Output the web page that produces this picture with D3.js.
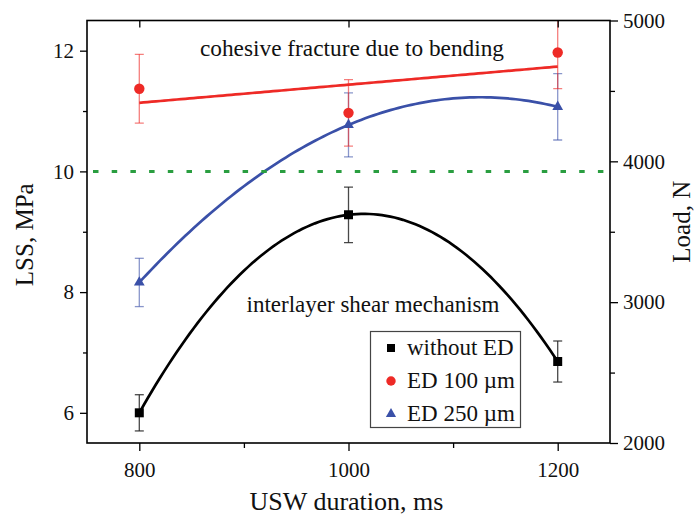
<!DOCTYPE html>
<html><head><meta charset="utf-8">
<script src="https://cdn.jsdelivr.net/npm/d3@7"></script>
<style>
body{margin:0;background:#fff;}
svg{display:block;}
</style></head>
<body><svg id="c" width="699" height="525"></svg>
<script>
// ---- data ----
const durations = [800, 1000, 1200];
const noED = [6.0, 9.28, 6.85];
const noEDErr = [0.30, 0.46, 0.34];
const ed100 = [11.37, 10.97, 11.97];
const ed100Err = [0.57, 0.55, 0.60];
const ed250 = [8.16, 10.77, 11.07];
const ed250Err = [0.40, 0.53, 0.55];
const lssTicks = [6, 8, 10, 12];
const lssMinor = [7, 9, 11];
const loadTicks = [2000, 3000, 4000, 5000];
const loadMinor = [2500, 3500, 4500];
const xTicks = [800, 1000, 1200];
const xMinor = [900, 1100];
const refLevel = 10;
const legendLabels = ["without ED", "ED 100 \u00b5m", "ED 250 \u00b5m"];

const FONT = "'Liberation Serif', 'DejaVu Serif', serif";

// ---- layout ----
const L = 87, R = 610, T = 20.5, B = 443;
const svg = d3.select("#c");
const x = d3.scaleLinear().domain([750, 1250]).range([L, R]);
const y = d3.scaleLinear().domain([5.5, 12.5]).range([B, T]);
const yR = d3.scaleLinear().domain([2000, 5000]).range([B, T]);

svg.append("defs").append("clipPath").attr("id", "clip")
  .append("rect").attr("x", L).attr("y", T).attr("width", R - L).attr("height", B - T);

function polyfit(xs, ys, deg) {
  const n = deg + 1;
  const A = [];
  for (let i = 0; i < n; i++) {
    A.push([]);
    for (let j = 0; j < n; j++) A[i].push(d3.sum(xs, v => Math.pow(v, i + j)));
    A[i].push(d3.sum(xs, (v, k) => Math.pow(v, i) * ys[k]));
  }
  for (let i = 0; i < n; i++) {
    let p = i;
    for (let r = i + 1; r < n; r++) if (Math.abs(A[r][i]) > Math.abs(A[p][i])) p = r;
    [A[i], A[p]] = [A[p], A[i]];
    for (let r = 0; r < n; r++) {
      if (r === i) continue;
      const f = A[r][i] / A[i][i];
      for (let c = i; c <= n; c++) A[r][c] -= f * A[i][c];
    }
  }
  const coef = A.map((row, i) => row[n] / row[i]);
  return v => d3.sum(coef, (c, i) => c * Math.pow(v, i));
}
const xc = durations.map(d => (d - 1000) / 100);
const fitSeries = (vals, deg) => {
  const f = polyfit(xc, vals, deg);
  return d3.range(800, 1200.1, 4).map(d => [d, f((d - 1000) / 100)]);
};

const lineGen = d3.line().x(d => x(d[0])).y(d => y(d[1]));
const plot = svg.append("g").attr("clip-path", "url(#clip)");

plot.append("path").datum(fitSeries(noED, 2)).attr("d", lineGen)
  .attr("fill", "none").attr("stroke", "#000").attr("stroke-width", 2.7);
plot.append("path").datum(fitSeries(ed250, 2)).attr("d", lineGen)
  .attr("fill", "none").attr("stroke", "#3a50a8").attr("stroke-width", 2.7);
plot.append("path").datum(fitSeries(ed100, 1)).attr("d", lineGen)
  .attr("fill", "none").attr("stroke", "#ee2a26").attr("stroke-width", 2.7);

plot.append("line").attr("x1", L + 6).attr("x2", R).attr("y1", y(refLevel)).attr("y2", y(refLevel))
  .attr("stroke", "#2a9e40").attr("stroke-width", 3).attr("stroke-dasharray", "5.5,13.2");

function errBars(vals, errs, color) {
  const g = plot.append("g").attr("stroke", color).attr("stroke-width", 1.3).attr("fill", "none");
  durations.forEach((d, i) => {
    const cx = x(d), y1 = y(vals[i] + errs[i]), y2 = y(vals[i] - errs[i]);
    g.append("line").attr("x1", cx).attr("x2", cx).attr("y1", y1).attr("y2", y2);
    g.append("line").attr("x1", cx - 4.5).attr("x2", cx + 4.5).attr("y1", y1).attr("y2", y1);
    g.append("line").attr("x1", cx - 4.5).attr("x2", cx + 4.5).attr("y1", y2).attr("y2", y2);
  });
}
errBars(noED, noEDErr, "rgba(40,40,40,0.85)");
errBars(ed250, ed250Err, "rgba(58,80,168,0.6)");
errBars(ed100, ed100Err, "rgba(238,42,38,0.6)");

const sq = d3.symbol().type(d3.symbolSquare).size(81);
const ci = d3.symbol().type(d3.symbolCircle).size(85);
const tri = d3.symbol().type(d3.symbolTriangle).size(50);
plot.selectAll(".m0").data(durations).enter().append("path")
  .attr("d", sq).attr("fill", "#000").attr("transform", (d, i) => `translate(${x(d)},${y(noED[i])})`);
plot.selectAll(".m2").data(durations).enter().append("path")
  .attr("d", tri).attr("fill", "#3a50a8").attr("transform", (d, i) => `translate(${x(d)},${y(ed250[i])})`);
plot.selectAll(".m1").data(durations).enter().append("path")
  .attr("d", ci).attr("fill", "#ee2a26").attr("transform", (d, i) => `translate(${x(d)},${y(ed100[i])})`);

function txt(sel) { return sel.attr("font-family", FONT).style("font-family", FONT).attr("fill", "#111"); }

txt(svg.append("text")).attr("x", 352).attr("y", 56).attr("text-anchor", "middle")
  .style("font-size", "23.3px").text("cohesive fracture due to bending");
txt(svg.append("text")).attr("x", 373).attr("y", 312).attr("text-anchor", "middle")
  .style("font-size", "23px").text("interlayer shear mechanism");

function styleAxis(g) {
  g.attr("font-family", FONT);
  g.select(".domain").remove();
  g.selectAll(".tick line").attr("stroke", "#000").attr("stroke-width", 1.3);
  g.selectAll("text").style("font-size", "21px").style("font-family", FONT).attr("fill", "#111");
}
svg.append("g").attr("transform", `translate(${L},0)`)
  .call(d3.axisLeft(y).tickValues(lssTicks).tickSize(7).tickPadding(6).tickFormat(d3.format("d"))).call(styleAxis);
svg.append("g").attr("transform", `translate(${L},0)`)
  .call(d3.axisLeft(y).tickValues(lssMinor).tickSize(4).tickFormat("")).call(styleAxis);
svg.append("g").attr("transform", `translate(${R},0)`)
  .call(d3.axisRight(yR).tickValues(loadTicks).tickSize(8).tickPadding(5).tickFormat(d3.format("d"))).call(styleAxis);
svg.append("g").attr("transform", `translate(${R},0)`)
  .call(d3.axisRight(yR).tickValues(loadMinor).tickSize(5).tickFormat("")).call(styleAxis);
svg.append("g").attr("transform", `translate(0,${B})`)
  .call(d3.axisBottom(x).tickValues(xTicks).tickSize(8).tickPadding(11).tickFormat(d3.format("d"))).call(styleAxis);
svg.append("g").attr("transform", `translate(0,${B})`)
  .call(d3.axisBottom(x).tickValues(xMinor).tickSize(5).tickFormat("")).call(styleAxis);
svg.append("g").attr("transform", `translate(0,${T})`)
  .call(d3.axisBottom(x).tickValues(xTicks).tickSize(7).tickFormat("")).call(styleAxis);

svg.append("rect").attr("x", L).attr("y", T).attr("width", R - L).attr("height", B - T)
  .attr("fill", "none").attr("stroke", "#000").attr("stroke-width", 1.6);

txt(svg.append("text")).attr("x", (L + R) / 2 - 2).attr("y", 510).attr("text-anchor", "middle")
  .style("font-size", "26px").text("USW duration, ms");
txt(svg.append("text")).attr("transform", `translate(33,${(T + B) / 2 + 3}) rotate(-90)`)
  .attr("text-anchor", "middle").style("font-size", "25px").text("LSS, MPa");
txt(svg.append("text")).attr("transform", `translate(690,${(T + B) / 2 - 10}) rotate(-90)`)
  .attr("text-anchor", "middle").style("font-size", "25px").text("Load, N");

const lg = svg.append("g");
lg.append("rect").attr("x", 370.5).attr("y", 331.5).attr("width", 150).attr("height", 96)
  .attr("fill", "#fff").attr("stroke", "#444").attr("stroke-width", 1.2);
const legSyms = [
  {sym: d3.symbol().type(d3.symbolSquare).size(64), color: "#000"},
  {sym: d3.symbol().type(d3.symbolCircle).size(70), color: "#ee2a26"},
  {sym: d3.symbol().type(d3.symbolTriangle).size(45), color: "#3a50a8"}
];
legendLabels.forEach((lab, i) => {
  const cy = 348 + i * 33;
  lg.append("path").attr("d", legSyms[i].sym).attr("fill", legSyms[i].color)
    .attr("transform", `translate(391,${cy})`);
  txt(lg.append("text")).attr("x", 407).attr("y", cy + 7).style("font-size", "23px").text(lab);
});
</script></body></html>
